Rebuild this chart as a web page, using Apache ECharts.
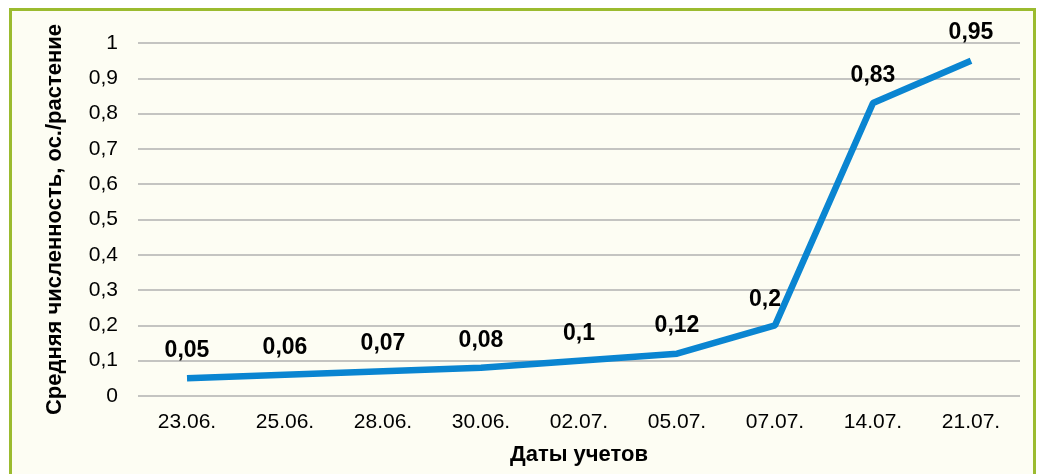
<!DOCTYPE html>
<html><head><meta charset="utf-8">
<script src="https://cdn.jsdelivr.net/npm/echarts@6/dist/echarts.min.js"></script>
<style>html,body{margin:0;padding:0;background:#fff}#c{width:1040px;height:474px}</style>
</head><body><div id="c"></div>
<script>
const categories = ['23.06.','25.06.','28.06.','30.06.','02.07.','05.07.','07.07.','14.07.','21.07.'];
const values = [0.05,0.06,0.07,0.08,0.1,0.12,0.2,0.83,0.95];
const yTitle = 'Средняя численность, ос./растение';
const xTitle = 'Даты учетов';
const fmt = v => String(v).replace('.', ',');
const chart = echarts.init(document.getElementById('c'));
chart.setOption({
  animation:false,
  backgroundColor:'#ffffff',
  graphic:[{type:'rect',z:-10,shape:{x:10.5,y:9.5,width:1024,height:480},style:{fill:'#FDFDF3',stroke:'#9BBB2F',lineWidth:3}}],
  grid:{left:138,right:20,top:43,bottom:78},
  xAxis:{type:'category',data:categories,boundaryGap:true,
    name:xTitle,nameLocation:'middle',nameGap:48,
    nameTextStyle:{fontFamily:'Liberation Sans',fontWeight:'bold',fontSize:22,color:'#000'},
    axisLine:{show:false},axisTick:{show:false},
    axisLabel:{fontFamily:'Liberation Sans',fontSize:21,color:'#000',margin:16}},
  yAxis:{type:'value',min:0,max:1,interval:0.1,
    name:yTitle,nameLocation:'middle',nameGap:72,
    nameTextStyle:{fontFamily:'Liberation Sans',fontWeight:'bold',fontSize:22,color:'#000'},
    axisLine:{show:false},axisTick:{show:false},
    splitLine:{lineStyle:{color:'#B0B0B0',width:1.5}},
    axisLabel:{fontFamily:'Liberation Sans',fontSize:21,color:'#000',margin:20,formatter:v=>fmt(Math.round(v*10)/10)}},
  series:[{type:'line',data:values.map((v,i)=>i===6?{value:v,label:{offset:[-10,2]}}:v),
    symbol:'circle',symbolSize:2,showSymbol:true,itemStyle:{color:'rgba(0,0,0,0)',borderWidth:0},
    lineStyle:{color:'#0A85D1',width:6.5},
    label:{show:true,position:'top',distance:15,fontFamily:'Liberation Sans',fontWeight:'bold',fontSize:23,color:'#000',formatter:p=>fmt(p.value)}}]
});
</script></body></html>
